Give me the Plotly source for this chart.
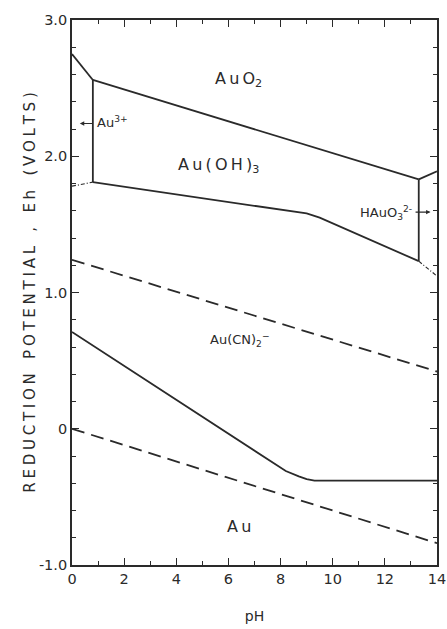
import plotly.graph_objects as go

# ---- data (pH, Eh in volts) ----
ph_au3_auo2 = [0.0, 0.8]
eh_au3_auo2 = [2.75, 2.56]

ph_auo2_auoh3 = [0.8, 13.3]
eh_auoh3_upper = [2.56, 1.83]

ph_auo2_hauo3 = [13.3, 14.0]
eh_auo2_hauo3 = [1.83, 1.89]

ph_au3_vert = [0.8, 0.8]
eh_au3_vert = [2.56, 1.81]

ph_au3_au = [0.0, 0.8]
eh_au3_au = [1.78, 1.81]

ph_auoh3_au = [0.8, 9.0, 9.5, 13.3]
eh_auoh3_au = [1.81, 1.58, 1.55, 1.23]

ph_hauo3_vert = [13.3, 13.3]
eh_hauo3_vert = [1.83, 1.23]

ph_hauo3_au = [13.3, 14.0]
eh_hauo3_au = [1.23, 1.12]

ph_o2 = [0.0, 14.0]
eh_o2 = [1.24, 0.42]

ph_h2 = [0.0, 14.0]
eh_h2 = [0.0, -0.84]

ph_cn = [0.0, 8.2, 8.7, 9.0, 9.3, 14.0]
eh_cn = [0.71, -0.31, -0.35, -0.37, -0.38, -0.38]

x_ticks = [0, 2, 4, 6, 8, 10, 12, 14]
x_tick_text = ["0", "2", "4", "6", "8", "10", "12", "14"]
y_ticks = [-1, 0, 1, 2, 3]
y_tick_text = ["-1.0", "0", "1.0", "2.0", "3.0"]

INK = "#2a2a2a"
FONT = "DejaVu Sans"
TS = "\u2009"  # thin space for letter spacing

fig = go.Figure()

def add_line(x, y, dash="solid", width=1.8):
    fig.add_trace(go.Scatter(x=x, y=y, mode="lines",
                             line=dict(color=INK, width=width, dash=dash),
                             hoverinfo="skip", showlegend=False))

add_line(ph_au3_auo2, eh_au3_auo2)
add_line(ph_auo2_auoh3, eh_auoh3_upper)
add_line(ph_auo2_hauo3, eh_auo2_hauo3)
add_line(ph_au3_vert, eh_au3_vert)
add_line(ph_au3_au, eh_au3_au, dash="4px,2px,1px,2px", width=1.2)
add_line(ph_auoh3_au, eh_auoh3_au)
add_line(ph_hauo3_vert, eh_hauo3_vert)
add_line(ph_hauo3_au, eh_hauo3_au, dash="4px,2px,1px,2px", width=1.2)
add_line(ph_o2, eh_o2, dash="13px,7px")
add_line(ph_h2, eh_h2, dash="13px,7px")
add_line(ph_cn, eh_cn)

def label(x, y, text, size, xanchor="center"):
    fig.add_annotation(x=x, y=y, text=text, showarrow=False,
                       xanchor=xanchor, yanchor="middle",
                       font=dict(family=FONT, size=size, color=INK))

label(6.4, 2.56, TS.join("AuO") + "<sub>2</sub>", 16)
label(5.6, 1.93, TS.join("Au(OH)") + "<sub>3</sub>", 16)
label(0.88, 2.25, "Au<sup>3+</sup>", 13, xanchor="left")
label(13.1, 1.58, "HAuO<sub>3</sub><sup>2-</sup>", 13, xanchor="right")
label(6.45, 0.65, "Au(CN)<sub>2</sub><sup>−</sup>", 13)
label(6.4, -0.72, TS.join("Au"), 16)

# arrows
fig.add_annotation(x=0.3, y=2.24, ax=0.85, ay=2.24, axref="x", ayref="y",
                   xref="x", yref="y", text="", showarrow=True,
                   arrowhead=2, arrowsize=0.8, arrowwidth=1.1, arrowcolor=INK)
fig.add_annotation(x=13.75, y=1.59, ax=13.12, ay=1.59, axref="x", ayref="y",
                   xref="x", yref="y", text="", showarrow=True,
                   arrowhead=2, arrowsize=0.8, arrowwidth=1.1, arrowcolor=INK)

axis_common = dict(showline=True, linecolor=INK, linewidth=1.8, mirror="ticks",
                   ticks="inside", tickcolor=INK, tickwidth=1.3, ticklen=7,
                   showgrid=False, zeroline=False, automargin=False,
                   tickfont=dict(family=FONT, size=14.5, color=INK))

title_words = ["REDUCTION", "POTENTIAL", ",", "Eh", "(VOLTS)"]
y_title = "\u00a0\u00a0\u00a0".join("\u2005".join(w) for w in title_words)

fig.update_xaxes(range=[0, 14], tickvals=x_ticks, ticktext=x_tick_text,
                 minor=dict(dtick=1, ticks="inside", ticklen=4, tickcolor=INK, tickwidth=1.2),
                 title=dict(text="pH", font=dict(family=FONT, size=14, color=INK), standoff=25),
                 **axis_common)
fig.update_yaxes(range=[-1, 3], tickvals=y_ticks, ticktext=y_tick_text,
                 minor=dict(dtick=0.2, tick0=0, ticks="inside", ticklen=4, tickcolor=INK, tickwidth=1.2),
                 title=dict(text=y_title, font=dict(family=FONT, size=15, color=INK), standoff=0),
                 **axis_common)

fig.update_layout(width=447, height=629, paper_bgcolor="white", plot_bgcolor="white",
                  margin=dict(l=72, r=10, t=20, b=64, autoexpand=False), showlegend=False)

# remove the browser's default 8px page margin so the figure fills the window exactly
fig.write_html("out.html",
               config={"displayModeBar": False},
               post_script="document.body.style.margin='0';document.body.style.overflow='hidden';")
